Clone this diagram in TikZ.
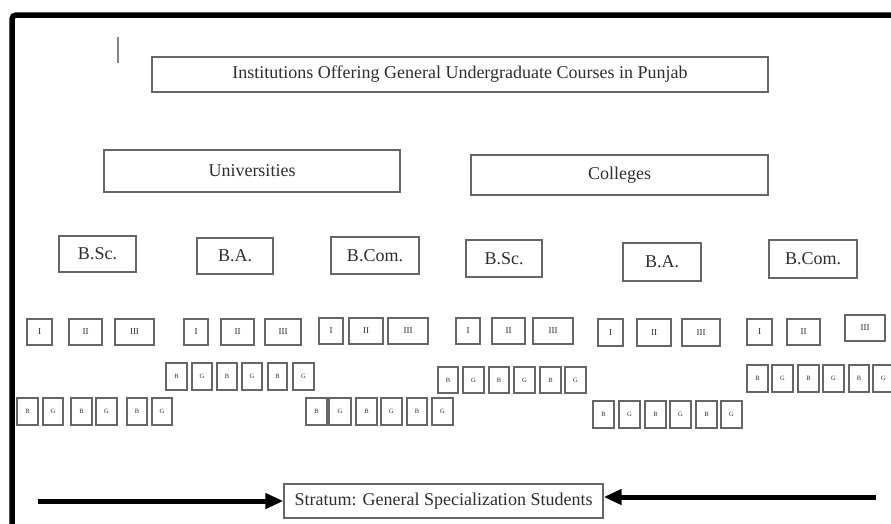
\documentclass[tikz,border=0pt]{standalone}
\usepackage{fontspec}
\setmainfont{Liberation Serif}
\usetikzlibrary{arrows.meta}
\definecolor{boxgray}{HTML}{666666}
\definecolor{inkgray}{HTML}{2E2E2E}
% a box from its edges: name, x1, x2, y1, y2, text, style
\newcommand\cellbox[7]{%
  \node[#7, minimum width={#3-#2}, minimum height={#5-#4}] (#1)
    at ({(#2+#3)/2},{(#4+#5)/2}) {#6};}
\begin{document}
\begin{tikzpicture}[x=1pt,y=-1pt,
  box/.style={draw=boxgray, line width=1.3pt, inner sep=0pt, text=inkgray,
    font=\fontsize{18}{18}\selectfont},
  yearbox/.style={box, line width=1.2pt, font=\fontsize{9}{9}\selectfont},
  gbox/.style={box, line width=1.2pt, font=\fontsize{6.5}{6.5}\selectfont},
  bigarrow/.style={line width=5pt, -{Triangle[length=18pt,width=15pt]}}]
\useasboundingbox (0,0) rectangle (891,523);
\fill[white] (0,0) rectangle (891,523);
\begin{scope}
\clip (0,0) rectangle (891,523);
% outer frame, open to the right and bottom
\draw[line width=5.5pt, rounded corners=4pt] (12,540) -- (12,15) -- (910,15);
\draw[boxgray!80, line width=1.6pt] (118,37) -- (118,63);

% top level
\cellbox{title}{152}{768}{57}{92}{Institutions Offering General Undergraduate Courses in Punjab}{box}
\cellbox{uni}{104}{400}{150}{192}{Universities}{box}
\cellbox{col}{471}{768}{155}{195}{Colleges}{box}

% degree boxes
\cellbox{bsc1}{59}{136}{236}{272}{B.Sc.}{box}
\cellbox{ba1}{197}{273}{238}{274}{B.A.}{box}
\cellbox{bcom1}{331}{419}{237}{274}{B.Com.}{box}
\cellbox{bsc2}{466}{542}{240}{277}{B.Sc.}{box}
\cellbox{ba2}{623}{701}{243}{281}{B.A.}{box}
\cellbox{bcom2}{769}{857}{240}{278}{B.Com.}{box}

% year boxes
\foreach \a/\b/\l [count=\i] in {27/52/I,69/102/II,115/154/III}
  {\cellbox{y1-\i}{\a}{\b}{319}{345}{\l}{yearbox}}
\foreach \a/\b/\l [count=\i] in {184/208/I,221/254/II,265/301/III}
  {\cellbox{y2-\i}{\a}{\b}{319}{345}{\l}{yearbox}}
\foreach \a/\b/\l [count=\i] in {319/343/I,349/383/II,388/428/III}
  {\cellbox{y3-\i}{\a}{\b}{318}{344}{\l}{yearbox}}
\foreach \a/\b/\l [count=\i] in {456/480/I,492/525/II,533/573/III}
  {\cellbox{y4-\i}{\a}{\b}{318}{344}{\l}{yearbox}}
\foreach \a/\b/\l [count=\i] in {598/623/I,637/671/II,682/720/III}
  {\cellbox{y5-\i}{\a}{\b}{319}{346}{\l}{yearbox}}
\foreach \a/\b/\l/\t [count=\i] in {747/772/I/319,787/820/II/319,845/885/III/315}
  {\cellbox{y6-\i}{\a}{\b}{\t}{\t+26}{\l}{yearbox}}

% boys / girls boxes
\foreach \a/\b/\l [count=\i] in {17/38/B,43/63/G,71/92/B,96/117/G,127/147/B,152/172/G}
  {\cellbox{g1-\i}{\a}{\b}{398}{425}{\l}{gbox}}
\foreach \a/\b/\l [count=\i] in {166/187/B,192/212/G,217/237/B,242/262/G,268/287/B,293/314/G}
  {\cellbox{g2-\i}{\a}{\b}{363}{390}{\l}{gbox}}
\foreach \a/\b/\l [count=\i] in {306/327/B,329/351/G,356/377/B,381/402/G,407/427/B,432/453/G}
  {\cellbox{g3-\i}{\a}{\b}{398}{425}{\l}{gbox}}
\foreach \a/\b/\l [count=\i] in {438/458/B,463/484/G,489/509/B,514/535/G,540/561/B,565/586/G}
  {\cellbox{g4-\i}{\a}{\b}{367}{393}{\l}{gbox}}
\foreach \a/\b/\l [count=\i] in {593/614/B,619/640/G,645/666/B,670/691/G,696/717/B,721/742/G}
  {\cellbox{g5-\i}{\a}{\b}{401}{428}{\l}{gbox}}
\foreach \a/\b/\l [count=\i] in {747/768/B,772/793/G,798/819/B,823/844/G,849/869/B,873/894/G}
  {\cellbox{g6-\i}{\a}{\b}{365}{392}{\l}{gbox}}

% sampling stratum
\cellbox{stratum}{284}{603}{484}{518}{Stratum: General Specialization Students}{box}
\coordinate (la) at (38,501);
\coordinate (ra) at (876,497);
\draw[bigarrow] (la) -- (stratum.west);
\draw[bigarrow] (ra) -- (ra -| stratum.east);
\end{scope}
\end{tikzpicture}
\end{document}
